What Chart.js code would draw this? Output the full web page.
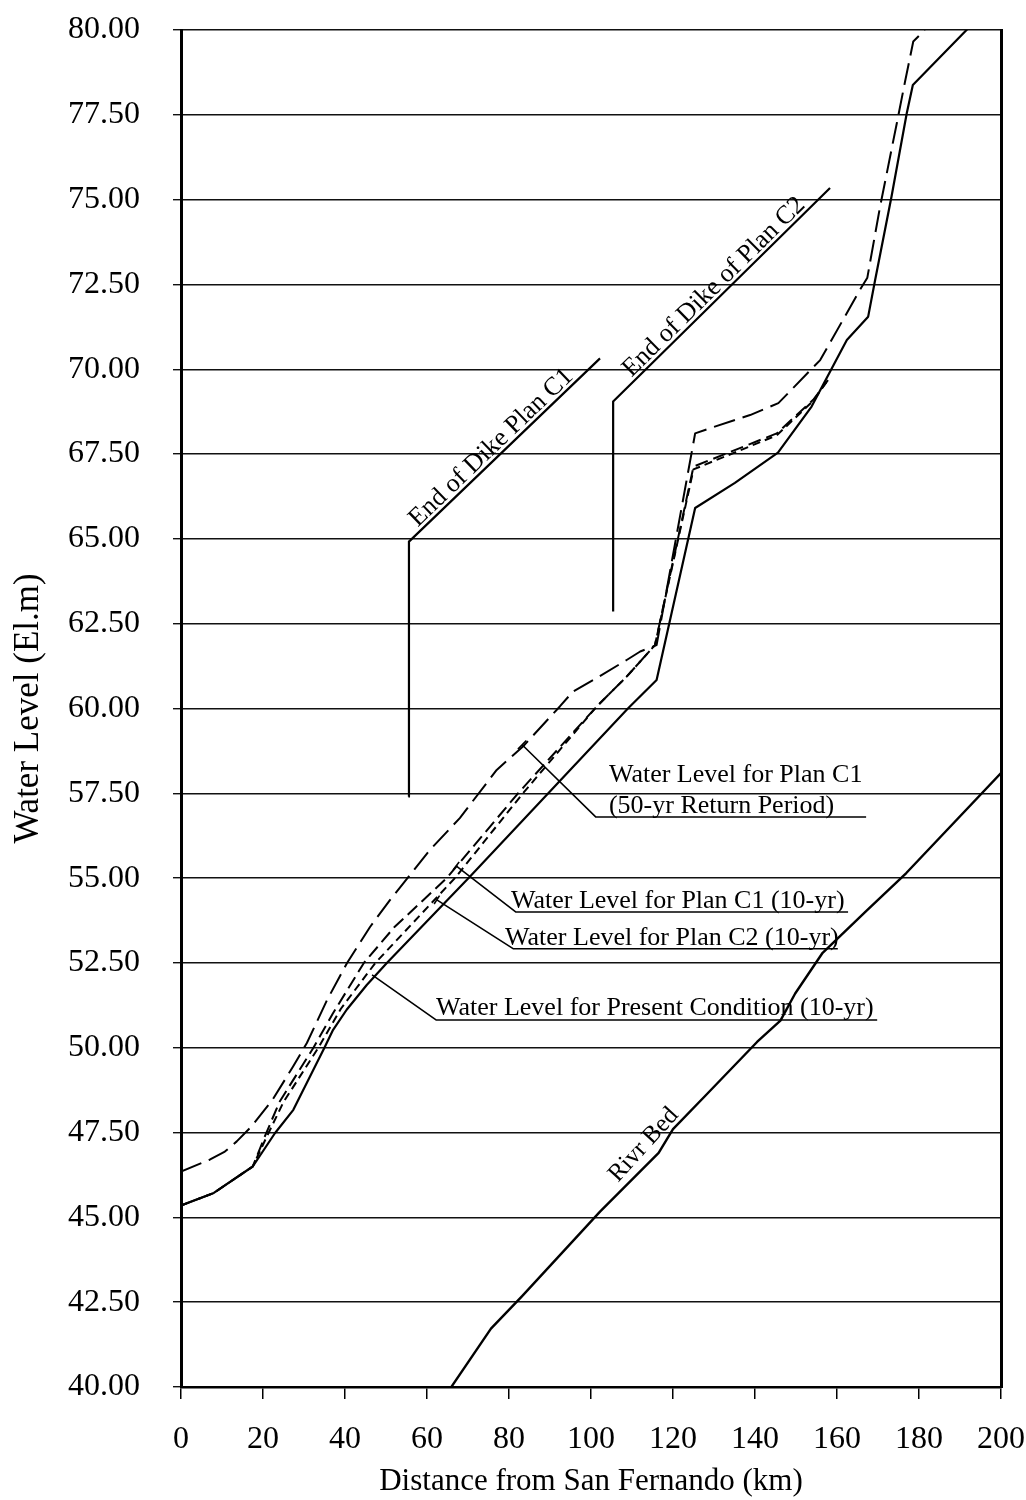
<!DOCTYPE html>
<html>
<head>
<meta charset="utf-8">
<script src="https://cdn.jsdelivr.net/npm/chart.js@4.4.0/dist/chart.umd.min.js"></script>
<style>
html,body{margin:0;padding:0;background:#fff}
#wrap{width:1026px;height:1500px;position:relative}
</style>
</head>
<body>
<div id="wrap"><canvas id="c" width="1026" height="1500"></canvas></div>
<script>
// ---- data (km from San Fernando, water level El.m) ----
const xTicks = [0, 20, 40, 60, 80, 100, 120, 140, 160, 180, 200];
const yTicks = [40, 42.5, 45, 47.5, 50, 52.5, 55, 57.5, 60, 62.5, 65, 67.5, 70, 72.5, 75, 77.5, 80];

const presentKm    = [0, 8, 17.5, 22.9, 27.4, 35.1, 37.1, 40.4, 45.3, 50.2, 70.5, 109, 116, 125.4, 135.1, 145.6, 153.8, 162.4, 167.6, 169.3, 173.3, 177, 178.5, 192.4, 196];
const presentLevel = [45.35, 45.72, 46.5, 47.48, 48.17, 50.03, 50.53, 51.12, 51.85, 52.5, 55.05, 60.0, 60.84, 65.91, 66.65, 67.54, 68.9, 70.86, 71.55, 72.63, 75.09, 77.54, 78.38, 80.1, 80.45];

const c1y50Km    = [0, 7, 10.7, 13.6, 17.2, 22.3, 27.3, 30.7, 35.6, 40.5, 46.1, 51, 60.7, 68, 77, 83.4, 92.4, 95.6, 101.4, 108.7, 112, 116, 125.4, 129, 138.8, 145.7, 155.9, 165.6, 167.4, 170.5, 174.6, 176.6, 178.6, 181, 183];
const c1y50Level = [46.35, 46.7, 46.94, 47.24, 47.68, 48.46, 49.44, 50.14, 51.4, 52.5, 53.56, 54.36, 55.83, 56.77, 58.19, 58.88, 60.06, 60.5, 60.9, 61.43, 61.68, 61.87, 68.11, 68.26, 68.65, 69.0, 70.27, 72.34, 72.7, 74.79, 77.26, 78.48, 79.66, 79.95, 80.3];

const c1y10Km    = [0, 8, 17.5, 20.5, 24, 32.3, 37, 44.6, 52, 64.8, 82.2, 101.4, 108.7, 115.6, 125, 145.3, 154.2, 157.8];
const c1y10Level = [45.35, 45.72, 46.5, 47.4, 48.4, 50.0, 51.0, 52.5, 53.55, 55.0, 57.5, 60.06, 60.94, 61.87, 67.13, 68.11, 69.1, 69.68];

const c2y10Km    = [0, 8, 17.5, 21, 25, 33.5, 39, 47.4, 66.8, 83.4, 101.4, 108.7, 115.6, 125, 145.3, 154.2, 157.8];
const c2y10Level = [45.35, 45.72, 46.5, 47.4, 48.4, 50.0, 51.15, 52.5, 55.0, 57.5, 60.06, 60.94, 61.87, 67.05, 68.05, 69.07, 69.68];

const riverKm    = [64.8, 75.6, 83.2, 102.2, 116.5, 120, 128, 140.5, 146.2, 149.8, 156.5, 167.1, 176.9, 200];
const riverLevel = [39.8, 41.72, 42.68, 45.17, 46.9, 47.6, 48.6, 50.17, 50.8, 51.6, 52.8, 54.03, 55.15, 58.1];

const dikeC1Km    = [55.5, 55.6, 102.2];
const dikeC1Level = [57.4, 64.92, 70.32];
const dikeC2Km    = [105.4, 105.4, 158.3];
const dikeC2Level = [62.86, 69.05, 75.34];

// leader lines for labels
const lead50Km = [83.2, 101.2, 167.1],  lead50Level = [58.93, 56.8, 56.8];
const leadC1Km = [67.1, 81.7, 162.7],   leadC1Level = [55.36, 54.0, 54.0];
const leadC2Km = [62.4, 81.0, 160.2],   leadC2Level = [54.36, 52.92, 52.92];
const leadPrKm = [46.6, 62.2, 169.8],   leadPrLevel = [52.15, 50.82, 50.82];

const labels = {
  dikeC1: 'End of Dike Plan C1',
  dikeC2: 'End of Dike of Plan C2',
  river: 'Rivr Bed',
  c1y50: ['Water Level for Plan C1', '(50-yr Return Period)'],
  c1y10: 'Water Level for Plan C1 (10-yr)',
  c2y10: 'Water Level for Plan C2 (10-yr)',
  present: 'Water Level for Present Condition (10-yr)'
};

const SERIF = "'Liberation Serif', 'Times New Roman', serif";
const zip = (a, b) => a.map((v, i) => ({x: v, y: b[i]}));

function ds(label, km, lv, width, dash) {
  return {
    label, data: zip(km, lv), borderColor: '#000', backgroundColor: '#000',
    borderWidth: width, borderDash: dash || [], pointRadius: 0, tension: 0, fill: false,
    borderCapStyle: 'butt', borderJoinStyle: 'round'
  };
}

const annotPlugin = {
  id: 'annot',
  afterDatasetsDraw(chart) {
    const {ctx, scales: {x, y}} = chart;
    const P = (k, v) => ({x: x.getPixelForValue(k), y: y.getPixelForValue(v)});
    ctx.save();
    ctx.fillStyle = '#000';
    ctx.strokeStyle = '#000';
    function along(text, a, b, frac, off, size) {
      const ang = Math.atan2(b.y - a.y, b.x - a.x);
      const cx = a.x + (b.x - a.x) * frac, cy = a.y + (b.y - a.y) * frac;
      ctx.save();
      ctx.translate(cx, cy);
      ctx.rotate(ang);
      ctx.font = size + 'px ' + SERIF;
      ctx.textAlign = 'center';
      ctx.textBaseline = 'alphabetic';
      ctx.fillText(text, 0, -off);
      ctx.restore();
    }
    // short cross tick at the start of a leader line
    function startTick(km, lv, half) {
      const a = P(km[0], lv[0]), b = P(km[1], lv[1]);
      const len = Math.hypot(b.x - a.x, b.y - a.y);
      const nx = -(b.y - a.y) / len, ny = (b.x - a.x) / len;
      ctx.save();
      ctx.lineWidth = 1.6;
      ctx.beginPath();
      ctx.moveTo(a.x - nx * half, a.y - ny * half);
      ctx.lineTo(a.x + nx * half, a.y + ny * half);
      ctx.stroke();
      ctx.restore();
    }
    startTick(lead50Km, lead50Level, 6);
    startTick(leadC1Km, leadC1Level, 5);
    startTick(leadC2Km, leadC2Level, 5);

    along(labels.dikeC1, P(dikeC1Km[1], dikeC1Level[1]), P(dikeC1Km[2], dikeC1Level[2]), 0.47, 4, 26);
    along(labels.dikeC2, P(dikeC2Km[1], dikeC2Level[1]), P(dikeC2Km[2], dikeC2Level[2]), 0.5, 4, 26);
    along(labels.river, P(riverKm[3], riverLevel[3]), P(riverKm[6], riverLevel[6]), 0.5, 6, 25);

    ctx.font = '26px ' + SERIF;
    ctx.textAlign = 'left';
    ctx.textBaseline = 'alphabetic';
    let p = P(lead50Km[1], lead50Level[1]);
    ctx.fillText(labels.c1y50[1], p.x + 13, p.y - 4);
    ctx.fillText(labels.c1y50[0], p.x + 13, p.y - 35);
    p = P(leadC1Km[1], leadC1Level[1]);
    ctx.fillText(labels.c1y10, p.x - 5, p.y - 4);
    p = P(leadC2Km[1], leadC2Level[1]);
    ctx.fillText(labels.c2y10, p.x - 8, p.y - 4);
    p = P(leadPrKm[1], leadPrLevel[1]);
    ctx.fillText(labels.present, p.x, p.y - 5);
    ctx.restore();
  }
};

new Chart(document.getElementById('c'), {
  type: 'line',
  data: {
    datasets: [
      ds('Present Condition (10-yr)', presentKm, presentLevel, 2.2),
      ds('Plan C1 (50-yr)', c1y50Km, c1y50Level, 2, [22, 8]),
      ds('Plan C1 (10-yr)', c1y10Km, c1y10Level, 2, [13, 6]),
      ds('Plan C2 (10-yr)', c2y10Km, c2y10Level, 2, [8, 5]),
      ds('River Bed', riverKm, riverLevel, 2.4),
      ds('End of Dike C1', dikeC1Km, dikeC1Level, 2.2),
      ds('End of Dike C2', dikeC2Km, dikeC2Level, 2.2),
      ds('lead50', lead50Km, lead50Level, 1.6),
      ds('leadC1', leadC1Km, leadC1Level, 1.6),
      ds('leadC2', leadC2Km, leadC2Level, 1.6),
      ds('leadPr', leadPrKm, leadPrLevel, 1.6)
    ]
  },
  options: {
    responsive: false,
    animation: false,
    layout: {padding: {top: 30, left: 0, right: 0, bottom: 0}},
    plugins: {legend: {display: false}, tooltip: {enabled: false}},
    scales: {
      x: {
        type: 'linear', min: 0, max: 200,
        afterBuildTicks: s => { s.ticks = xTicks.map(v => ({value: v})); },
        ticks: {font: {family: SERIF, size: 32}, color: '#000', padding: 21, maxRotation: 0, autoSkip: false},
        grid: {drawOnChartArea: false, drawTicks: true, tickLength: 12, color: '#000', lineWidth: 1.5},
        border: {color: '#000', width: 2.5},
        title: {display: true, text: 'Distance from San Fernando (km)', font: {family: SERIF, size: 31}, color: '#000', padding: {top: 0, bottom: 0}},
        afterFit: s => { s.height = 113; s.paddingLeft = 0; s.paddingRight = 0; }
      },
      y: {
        type: 'linear', min: 40, max: 80,
        afterBuildTicks: s => { s.ticks = yTicks.map(v => ({value: v})); },
        ticks: {font: {family: SERIF, size: 32}, color: '#000', padding: 33, autoSkip: false, callback: v => Number(v).toFixed(2)},
        grid: {color: '#111', lineWidth: 1.4, tickLength: 8, drawTicks: true},
        border: {color: '#000', width: 3},
        title: {display: true, text: 'Water Level (El.m)', font: {family: SERIF, size: 35}, color: '#000', padding: {top: 8, bottom: 0}},
        afterFit: s => { s.width = 181; s.paddingTop = 0; s.paddingBottom = 0; }
      },
      y2: {
        type: 'linear', position: 'right', min: 40, max: 80,
        ticks: {display: false},
        grid: {display: false, drawTicks: false},
        border: {display: true, color: '#000', width: 3},
        afterFit: s => { s.width = 25; s.paddingTop = 0; s.paddingBottom = 0; }
      }
    }
  },
  plugins: [annotPlugin]
});
</script>
</body>
</html>
